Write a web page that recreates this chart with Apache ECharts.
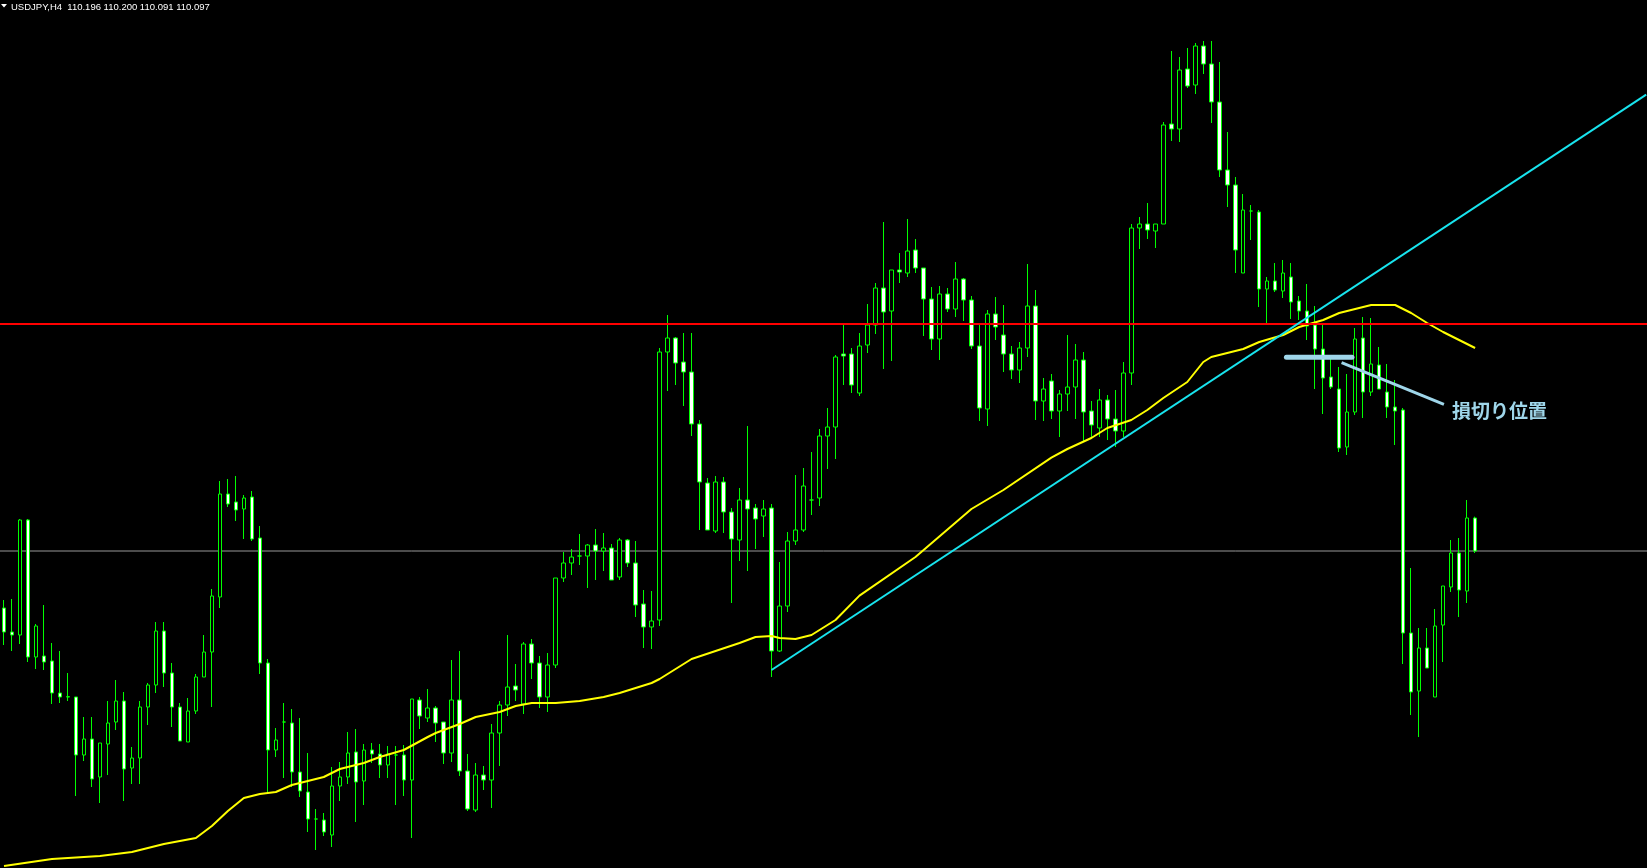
<!DOCTYPE html>
<html><head><meta charset="utf-8">
<script src="https://cdn.jsdelivr.net/npm/echarts@6/dist/echarts.min.js"></script>
<style>html,body{margin:0;padding:0;background:#000;overflow:hidden}#c{width:1647px;height:868px}</style>
</head><body><div id="c"></div>
<script>
const symbolName = 'USDJPY,H4';
const opens = [109.926,109.854,109.845,110.190,109.779,109.782,109.767,109.671,109.659,109.659,109.485,109.533,109.419,109.518,109.584,109.647,109.446,109.476,109.629,109.695,
109.857,109.731,109.629,109.524,109.617,109.719,109.794,109.959,110.268,110.244,110.223,110.259,110.136,109.761,109.500,109.584,109.581,109.434,109.374,109.293,
109.290,109.245,109.392,109.419,109.494,109.407,109.500,109.488,109.455,109.485,109.485,109.410,109.650,109.596,109.626,109.584,109.491,109.650,109.437,109.320,
109.425,109.410,109.551,109.635,109.692,109.638,109.818,109.761,109.659,109.755,110.016,110.061,110.082,110.082,110.115,110.097,110.106,110.019,110.130,110.061,
109.938,109.869,109.890,110.694,110.736,110.664,110.634,110.478,110.301,110.157,110.304,110.214,110.130,110.250,110.226,110.202,110.226,109.797,109.932,110.127,
110.160,110.250,110.256,110.442,110.469,110.688,110.688,110.571,110.715,110.775,110.886,110.817,110.940,110.931,111.000,110.946,110.853,110.733,110.868,110.823,
110.913,110.850,110.712,110.523,110.808,110.745,110.688,110.640,110.706,110.832,110.547,110.607,110.517,110.568,110.589,110.670,110.517,110.466,110.550,110.493,
110.457,110.631,111.066,111.078,111.057,111.078,111.378,111.363,111.543,111.495,111.612,111.558,111.444,111.240,111.195,110.931,111.117,111.114,110.883,110.907,
110.877,110.919,110.847,110.817,110.775,110.703,110.619,110.583,110.409,110.514,110.736,110.574,110.655,110.574,110.529,110.520,109.851,109.677,109.806,109.659,
109.875,109.989,110.091,109.977,110.196];
const highs = [109.950,109.953,110.193,110.193,109.878,109.935,109.821,109.797,109.731,109.659,109.599,109.599,109.521,109.647,109.710,109.674,109.509,109.647,109.701,109.884,
109.884,109.761,109.641,109.656,109.728,109.845,109.983,110.307,110.313,110.322,110.265,110.277,110.172,109.773,109.566,109.641,109.623,109.596,109.491,109.323,
109.311,109.449,109.464,109.554,109.563,109.518,109.521,109.518,109.512,109.512,109.515,109.653,109.659,109.683,109.632,109.584,109.770,109.797,109.488,109.461,
109.452,109.578,109.647,109.845,109.758,109.824,109.833,109.782,109.791,110.016,110.094,110.103,110.148,110.118,110.163,110.151,110.118,110.136,110.133,110.127,
109.980,109.977,110.706,110.805,110.739,110.751,110.751,110.490,110.316,110.322,110.319,110.226,110.286,110.472,110.238,110.250,110.238,110.064,110.154,110.325,
110.346,110.394,110.463,110.526,110.685,110.775,110.706,110.751,110.838,110.901,111.084,110.940,110.991,111.093,111.033,110.946,110.889,110.892,110.886,110.964,
110.916,110.862,110.775,110.820,110.859,110.835,110.712,110.724,110.958,110.880,110.616,110.628,110.580,110.745,110.718,110.694,110.547,110.583,110.565,110.580,
110.664,111.078,111.099,111.141,111.078,111.384,111.597,111.579,111.606,111.621,111.627,111.627,111.564,111.354,111.219,111.168,111.135,111.120,110.919,110.961,
110.970,110.961,110.862,110.898,110.832,110.781,110.673,110.649,110.628,110.766,110.799,110.796,110.709,110.658,110.610,110.526,110.046,109.866,109.866,109.923,
109.992,110.130,110.136,110.250,110.200];
const lows = [109.815,109.797,109.818,109.764,109.743,109.740,109.638,109.641,109.647,109.362,109.467,109.389,109.341,109.425,109.560,109.347,109.398,109.398,109.575,109.671,
109.689,109.569,109.527,109.524,109.608,109.719,109.629,109.926,110.229,110.187,110.133,110.127,109.728,109.371,109.479,109.416,109.389,109.359,109.254,109.200,
109.242,109.209,109.347,109.398,109.284,109.335,109.461,109.416,109.416,109.335,109.362,109.236,109.563,109.584,109.524,109.458,109.464,109.422,109.317,109.314,
109.380,109.326,109.452,109.602,109.647,109.608,109.713,109.626,109.614,109.746,110.004,110.025,110.055,109.986,110.010,110.037,110.010,110.010,110.049,109.899,
109.806,109.803,109.872,110.577,110.595,110.532,110.442,110.160,110.160,110.151,110.151,109.941,110.067,110.037,110.103,110.139,109.719,109.794,109.914,110.115,
110.154,110.205,110.232,110.343,110.373,110.595,110.571,110.562,110.691,110.748,110.643,110.667,110.901,110.919,110.931,110.742,110.700,110.670,110.814,110.799,
110.787,110.703,110.487,110.472,110.730,110.634,110.613,110.601,110.679,110.490,110.487,110.493,110.439,110.517,110.493,110.424,110.439,110.439,110.430,110.409,
110.439,110.595,111.003,111.033,111.006,111.078,111.327,111.324,111.486,111.468,111.528,111.381,111.219,111.129,110.931,110.931,111.030,110.829,110.781,110.874,
110.856,110.793,110.790,110.730,110.583,110.508,110.583,110.394,110.385,110.505,110.496,110.562,110.583,110.496,110.415,109.758,109.605,109.539,109.746,109.659,
109.764,109.974,109.899,109.941,110.091];
const closes = [109.854,109.845,110.190,109.779,109.872,109.764,109.671,109.659,109.660,109.485,109.533,109.413,109.521,109.581,109.647,109.443,109.476,109.629,109.695,109.857,
109.731,109.629,109.527,109.617,109.719,109.794,109.962,110.268,110.238,110.220,110.256,110.133,109.761,109.500,109.530,109.584,109.434,109.377,109.293,109.293,
109.254,109.392,109.419,109.491,109.404,109.500,109.488,109.455,109.488,109.485,109.410,109.653,109.602,109.626,109.581,109.491,109.650,109.437,109.323,109.425,
109.410,109.551,109.635,109.689,109.680,109.818,109.761,109.659,109.755,110.016,110.061,110.079,110.082,110.115,110.097,110.106,110.010,110.130,110.061,109.935,
109.869,109.887,110.694,110.736,110.661,110.634,110.478,110.304,110.160,110.304,110.214,110.133,110.250,110.223,110.193,110.223,109.797,109.932,110.127,110.160,
110.292,110.250,110.442,110.469,110.679,110.682,110.595,110.712,110.775,110.886,110.814,110.940,110.934,110.997,110.946,110.853,110.733,110.868,110.823,110.913,
110.850,110.712,110.526,110.808,110.769,110.688,110.640,110.706,110.832,110.547,110.583,110.517,110.568,110.589,110.670,110.514,110.475,110.550,110.493,110.457,
110.631,111.066,111.078,111.060,111.078,111.375,111.363,111.540,111.492,111.612,111.558,111.444,111.240,111.195,111.000,111.120,111.117,110.883,110.907,110.880,
110.931,110.844,110.817,110.772,110.703,110.616,110.589,110.406,110.514,110.733,110.574,110.658,110.583,110.529,110.517,109.851,109.674,109.806,109.746,109.872,
109.992,110.091,109.980,110.196,110.097];
// moving average, read at bar positions
const maIndex = [0,6,12,16,20,24,26,28,30,32,34,36,38,40,42,45,47,50,53,54,57,59,62,64,66,69,72,75,77,79,81,82,86,89,92,94,96,97,99,101,104,107,114,121,125,131,133,136,138,141,143,145,148,150,151,153,155,157,160,162,165,167,170,171,174,176,178,180,184];
const maValues = [109.152,109.173,109.182,109.194,109.218,109.236,109.272,109.317,109.356,109.368,109.374,109.395,109.407,109.419,109.443,109.461,109.479,109.500,109.539,109.551,109.578,109.599,109.614,109.632,109.641,109.641,109.647,109.659,109.671,109.686,109.701,109.713,109.773,109.797,109.821,109.839,109.842,109.836,109.833,109.845,109.890,109.963,110.079,110.223,110.280,110.377,110.403,110.436,110.466,110.490,110.520,110.556,110.604,110.664,110.679,110.691,110.703,110.724,110.745,110.769,110.790,110.811,110.829,110.835,110.835,110.811,110.781,110.754,110.706];
// drawn objects
const trendLine = [[96, 109.740], [205.4, 111.466]];
const resistanceLevel = 110.778;
const stopLevel = [[160.4, 110.678], [168.6, 110.678]];
const pointerLine = [[167.3, 110.662], [180.1, 110.537]];
const noteText = '損切り位置';
const SLOTS = 206;
const slots = Array.from({length: SLOTS}, (_, i) => String(i));

const last = closes.length - 1;
const headerText = symbolName + '  ' + [opens[last], highs[last], lows[last], closes[last]].map(v => v.toFixed(3)).join(' ');

const chart = echarts.init(document.getElementById('c'));
chart.setOption({
  animation: false,
  backgroundColor: '#000000',
  grid: {left: 0, top: 0, width: 1648, height: 868},
  xAxis: [
    {type: 'category', data: slots, show: false, boundaryGap: true},
    {type: 'value', min: -0.5, max: SLOTS - 0.5, show: false}
  ],
  yAxis: {type: 'value', min: 109.146, max: 111.75, show: false, splitLine: {show: false}},
  series: [
    {type: 'line', xAxisIndex: 1, data: [[-0.5, closes[last]], [SLOTS - 0.5, closes[last]]], showSymbol: false, silent: true,
      lineStyle: {color: '#989898', width: 1}, z: 1},
    {type: 'candlestick', xAxisIndex: 0, barWidth: 4,
      data: opens.map((o, i) => [o, closes[i], lows[i], highs[i]]),
      itemStyle: {color: '#000000', color0: '#ffffff', borderColor: '#00ff00', borderColor0: '#00ff00', borderColorDoji: '#00ff00', borderWidth: 1},
      z: 2},
    {type: 'line', xAxisIndex: 1, data: maIndex.map((k, i) => [k, maValues[i]]), showSymbol: false,
      lineStyle: {color: '#ffff00', width: 2}, z: 3},
    {type: 'line', xAxisIndex: 1, data: [[-0.5, resistanceLevel], [SLOTS - 0.5, resistanceLevel]], showSymbol: false,
      lineStyle: {color: '#ff0000', width: 2}, z: 4},
    {type: 'line', xAxisIndex: 1, data: trendLine, showSymbol: false,
      lineStyle: {color: '#18e4ee', width: 2}, z: 5},
    {type: 'line', xAxisIndex: 1, data: stopLevel, showSymbol: false,
      lineStyle: {color: '#9fd6ea', width: 5, cap: 'round'}, z: 6},
    {type: 'line', xAxisIndex: 1, data: pointerLine, showSymbol: false,
      lineStyle: {color: '#9fd6ea', width: 3}, z: 6}
  ],
  graphic: [
    {type: 'polygon', shape: {points: [[1, 4], [7, 4], [4, 7.5]]}, style: {fill: '#ffffff'}},
    {type: 'text', left: 11, top: 2, style: {text: headerText, fill: '#ffffff', font: '9.5px "Liberation Sans", Arial, sans-serif'}},
    {type: 'text', left: 1452, top: 401, style: {text: noteText, fill: '#9fd6ea', font: 'bold 19px "Noto Sans CJK JP", sans-serif'}}
  ]
});
</script>
</body></html>
